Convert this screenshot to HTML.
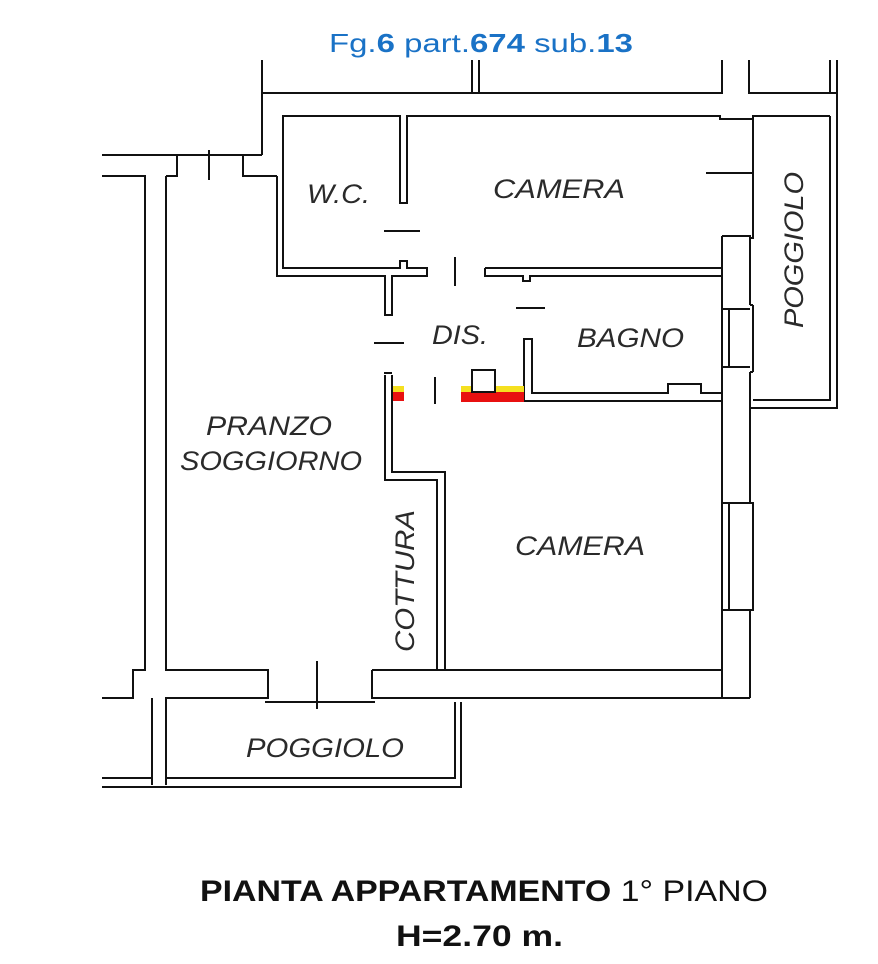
<!DOCTYPE html>
<html><head><meta charset="utf-8"><style>
html,body{margin:0;padding:0;background:#fff;}
svg{display:block;}
.w{stroke:#111;stroke-width:2;fill:none;}
.r{font-family:"Liberation Sans",sans-serif;font-style:italic;font-size:27px;fill:#2a2a2a;}
</style></head><body>
<svg width="878" height="964" viewBox="0 0 878 964" xmlns="http://www.w3.org/2000/svg">
<text x="329" y="52" font-family="Liberation Sans, sans-serif" font-size="26" fill="#1a72c6" textLength="304" lengthAdjust="spacingAndGlyphs">Fg.<tspan font-weight="bold">6</tspan>  part.<tspan font-weight="bold">674</tspan> sub.<tspan font-weight="bold">13</tspan></text>

<g class="w">
<path d="M262 60 V155"/>
<path d="M262 93 H722 V60"/>
<path d="M472 60 V93 M479 60 V93"/>
<path d="M749 60 V93 H837 M830 60 V93 M837 60 V408 H750"/>
<path d="M277 176 V276 H385 V315 H392 V276 H427 V268 H407 V261 H400 V268 H283 V116 H400 V203 H407 V116 H720 V119 H752"/>
<path d="M752 116 H830"/>
<path d="M102 155 H262"/>
<path d="M102 176 H145 V670 H133 V698 H102"/>
<path d="M166 176 H177 V155 M209 150 V180 M243 155 V176 H277"/>
<path d="M166 176 V670 H268 V698 H166 V785"/>
<path d="M152 698 V785"/>
<path d="M372 670 H722 V401 H524"/>
<path d="M372 670 V698 H750"/>
<path d="M265 702 H375"/>
<path d="M317 661 V709"/>
<path d="M166 778 H455 V702 M102 778 H152 M102 787 H461 V702"/>
<path d="M385 375 V480 H437 V670 M392 375 V472 H445 V670"/>
<path d="M384 373 H392"/>
<path d="M384 231 H420 M455 257 V286 M516 308 H545 M374 343 H404 M435 377 V404 M706 173 H753"/>
<path d="M485 268 H722 M485 268 V276 H523 V281 H530 V276 H722"/>
<path d="M524 401 V339 H532 V393 H668 V384 H701 V393 H722"/>
<path d="M722 236 H750 V238 H753 V116 M830 116 V400 H753"/>
<path d="M722 236 V698 M750 238 V305 M750 372 V503 M750 610 V698"/>
<path d="M722 309 H750 M722 367 H750 M729 309 V367 M753 305 V372 M750 305 H753 M750 372 H753"/>
<path d="M722 503 H753 V610 H722 M729 503 V610"/>
<path d="M750 400 V408"/>
</g>
<rect x="393" y="386" width="11" height="7" fill="#f5e020"/>
<rect x="393" y="392" width="11" height="9" fill="#e81010"/>
<rect x="461" y="386" width="63" height="7" fill="#f5e020"/>
<rect x="461" y="392" width="63" height="10" fill="#e81010"/>
<rect x="472" y="370" width="23" height="22" fill="#fff" stroke="#111" stroke-width="2"/>

<text class="r" x="307" y="203" textLength="63" lengthAdjust="spacingAndGlyphs">W.C.</text>
<text class="r" x="493" y="198" textLength="132" lengthAdjust="spacingAndGlyphs">CAMERA</text>
<text class="r" x="432" y="344" textLength="56" lengthAdjust="spacingAndGlyphs">DIS.</text>
<text class="r" x="577" y="347" textLength="107" lengthAdjust="spacingAndGlyphs">BAGNO</text>
<text class="r" x="206" y="435" textLength="126" lengthAdjust="spacingAndGlyphs">PRANZO</text>
<text class="r" x="180" y="470" textLength="182" lengthAdjust="spacingAndGlyphs">SOGGIORNO</text>
<text class="r" x="515" y="555" textLength="130" lengthAdjust="spacingAndGlyphs">CAMERA</text>
<text class="r" x="246" y="757" textLength="158" lengthAdjust="spacingAndGlyphs">POGGIOLO</text>
<text class="r" transform="translate(414,652) rotate(-90)" x="0" y="0" textLength="142" lengthAdjust="spacingAndGlyphs">COTTURA</text>
<text class="r" transform="translate(803,328) rotate(-90)" x="0" y="0" textLength="156" lengthAdjust="spacingAndGlyphs">POGGIOLO</text>

<text x="200" y="901" font-family="Liberation Sans, sans-serif" font-size="30" fill="#111" textLength="568" lengthAdjust="spacingAndGlyphs"><tspan font-weight="bold">PIANTA APPARTAMENTO</tspan> 1° PIANO</text>
<text x="396" y="946" font-family="Liberation Sans, sans-serif" font-size="30" font-weight="bold" fill="#111" textLength="167" lengthAdjust="spacingAndGlyphs">H=2.70 m.</text>
</svg>
</body></html>
